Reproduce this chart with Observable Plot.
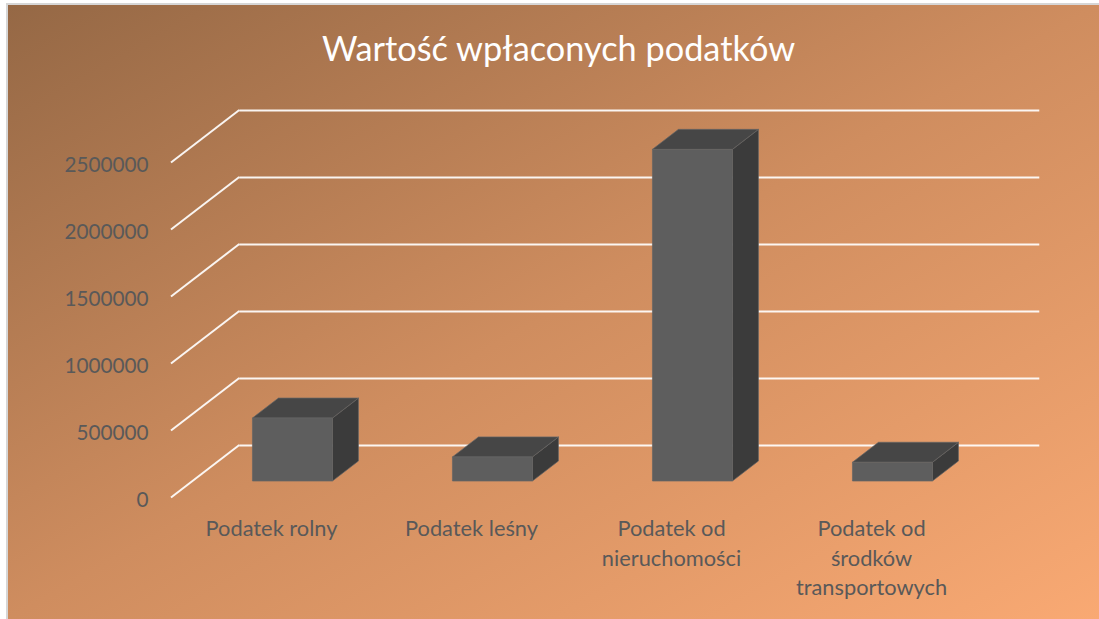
<!DOCTYPE html>
<html><head><meta charset="utf-8">
<script src="https://cdn.jsdelivr.net/npm/d3@7"></script>
<script src="https://cdn.jsdelivr.net/npm/@observablehq/plot@0.6"></script>
<style>
html,body{margin:0;padding:0;background:#fff;}
#wrap{position:relative;width:1099px;height:619px;overflow:hidden;}
#bg{position:absolute;left:6px;top:3px;right:0;bottom:0;border-left:2px solid #d6d6d6;border-top:2px solid #d6d6d6;
 background:linear-gradient(to bottom right,#956845 0%,#CF8D5F 50%,#F9A973 100%);}
#chart{position:absolute;left:0;top:0;}
</style></head><body>
<div id="wrap"><div id="bg"></div><div id="chart"></div></div>
<script>
const title = "Wartość wpłaconych podatków";
const categories = ["Podatek rolny", "Podatek leśny", "Podatek od nieruchomości", "Podatek od środków transportowych"];
const categoryLabels = ["Podatek rolny", "Podatek leśny", "Podatek od\nnieruchomości", "Podatek od\nśrodków\ntransportowych"];
const taxValues = [470000, 180000, 2475000, 140000];
const yTicks = [0, 500000, 1000000, 1500000, 2000000, 2500000];

// oblique 3D projection settings (pixels)
const DEPTH = [68.3, -52.5];
const FRONT = 0.314, BACK = 0.695;

function diagonals(index, scales, vals, dims) {
  const y = scales.y;
  const g = d3.create("svg:g").attr("stroke", "#fff").attr("stroke-width", 2).attr("stroke-opacity", 0.92);
  const x0 = dims.marginLeft;
  for (const t of yTicks) {
    g.append("line").attr("x1", x0).attr("y1", y(t)).attr("x2", x0 + DEPTH[0]).attr("y2", y(t) + DEPTH[1]);
  }
  return g.node();
}

function bars3d(index, scales) {
  const {x, y} = scales;
  const bw = typeof x.bandwidth === "function" ? x.bandwidth() : x.bandwidth;
  const g = d3.create("svg:g").attr("stroke", "#666").attr("stroke-width", 0.7).attr("stroke-linejoin", "round");
  const ox = DEPTH[0] * (BACK - FRONT), oy = DEPTH[1] * (BACK - FRONT);
  categories.forEach((c, i) => {
    const v = taxValues[i];
    const xl = x(c) + bw * 0.3 + DEPTH[0] * FRONT;
    const xr = xl + bw * 0.4;
    const yb = y(0) + DEPTH[1] * FRONT;
    const yt = y(v) + DEPTH[1] * FRONT;
    const poly = pts => pts.map(p => p.join(",")).join(" ");
    g.append("polygon").attr("fill", "#3b3b3b")
      .attr("points", poly([[xr, yt], [xr + ox, yt + oy], [xr + ox, yb + oy], [xr, yb]]));
    g.append("polygon").attr("fill", "#464646")
      .attr("points", poly([[xl, yt], [xr, yt], [xr + ox, yt + oy], [xl + ox, yt + oy]]));
    g.append("polygon").attr("fill", "#5e5e5e")
      .attr("points", poly([[xl, yt], [xr, yt], [xr, yb], [xl, yb]]));
  });
  return g.node();
}

const plot = Plot.plot({
  width: 1099, height: 619,
  marginLeft: 171, marginRight: 128, marginTop: 0, marginBottom: 0,
  style: {background: "transparent", fontFamily: "Lato", overflow: "visible"},
  x: {type: "band", domain: categories, range: [171, 971], padding: 0, axis: null},
  y: {domain: [0, 2500000], range: [497.5, 162.5], axis: null},
  marks: [
    Plot.ruleY(yTicks, {dx: DEPTH[0], dy: DEPTH[1], stroke: "#fff", strokeWidth: 2, strokeOpacity: 0.92}),
    diagonals,
    Plot.text(yTicks, {y: d => d, text: d => String(d), frameAnchor: "left", textAnchor: "end", lineAnchor: "middle",
      dx: -23, dy: 2.5, fill: "#595959", fontSize: 20.7}),
    bars3d,
    Plot.text(categories, {x: d => d, y: () => 0, text: (d, i) => categoryLabels[i], lineAnchor: "top",
      dy: 16.5, fill: "#595959", fontSize: 21.8, lineHeight: 1.37}),
    Plot.text([title], {frameAnchor: "top", text: d => d, lineAnchor: "middle", dx: -13, dy: 49.5, fill: "#fff", fontSize: 34.3})
  ]
});
document.getElementById("chart").append(plot);
</script>
</body></html>
